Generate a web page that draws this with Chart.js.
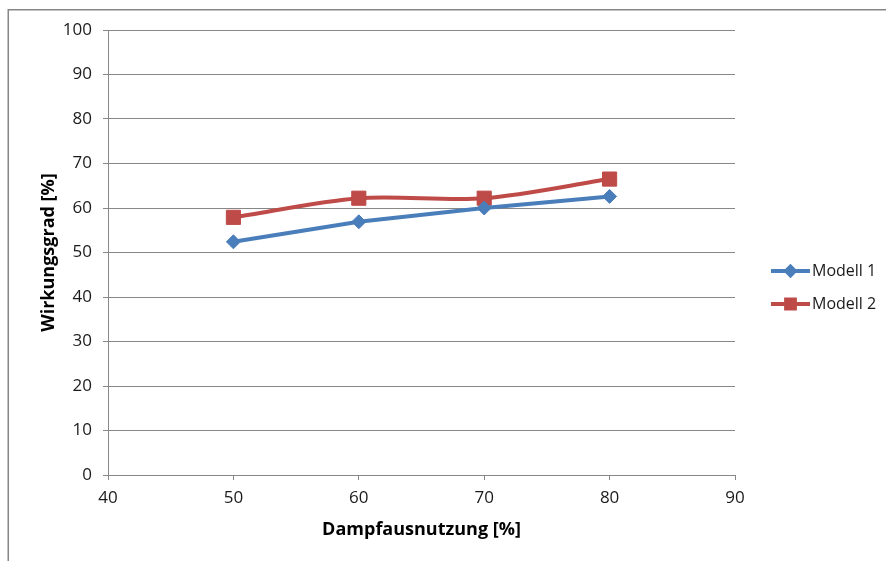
<!DOCTYPE html>
<html>
<head>
<meta charset="utf-8">
<script src="https://cdn.jsdelivr.net/npm/chart.js@4.4.1/dist/chart.umd.min.js"></script>
<style>
  html, body { margin: 0; padding: 0; background: #ffffff; }
  #wrap { position: relative; width: 886px; height: 561px; }
  canvas { display: block; }
</style>
</head>
<body>
<div id="wrap"><canvas id="c" width="886" height="561"></canvas></div>
<script>
// Dampfausnutzung [%] on the x axis
const dampfausnutzung = [50, 60, 70, 80];
// Wirkungsgrad [%] for both models
const modell1 = [52.4, 56.9, 60.0, 62.6];
const modell2 = [57.9, 62.2, 62.2, 66.5];
const seriesNames = ['Modell 1', 'Modell 2'];
const xTicks = [40, 50, 60, 70, 80, 90];
const yTicks = [0, 10, 20, 30, 40, 50, 60, 70, 80, 90, 100];

const FONT = '"Open Sans", "Liberation Sans", sans-serif';
const GRID = '#878787';
const BLUE = '#4a7ebb';
const RED = '#be4b48';

const toPoints = (ys) => ys.map((y, i) => ({ x: dampfausnutzung[i], y }));

// outer chart frame
const framePlugin = {
  id: 'frame',
  beforeDraw(chart) {
    const ctx = chart.ctx;
    ctx.save();
    ctx.strokeStyle = '#868686';
    ctx.lineWidth = 1.5;
    ctx.strokeRect(8.25, 9.75, 2000, 2000);
    ctx.restore();
  }
};

// legend with line sample and marker, to the right of the plot
const sideLegend = {
  id: 'sideLegend',
  afterDraw(chart) {
    const ctx = chart.ctx;
    const area = chart.chartArea;
    const x0 = area.right + 36;
    const lineLen = 39;
    const rows = [area.top + 241, area.top + 274];
    ctx.save();
    chart.data.datasets.forEach((ds, i) => {
      const y = rows[i];
      ctx.strokeStyle = ds.borderColor;
      ctx.lineWidth = 4;
      ctx.lineCap = 'butt';
      ctx.beginPath();
      ctx.moveTo(x0, y);
      ctx.lineTo(x0 + lineLen, y);
      ctx.stroke();
      ctx.fillStyle = ds.backgroundColor;
      ctx.strokeStyle = ds.borderColor;
      Chart.helpers.drawPoint(ctx, {
        pointStyle: ds.pointStyle,
        radius: ds.pointRadius * 0.62,
        borderWidth: 1
      }, x0 + lineLen / 2, y);
      ctx.fillStyle = '#1a1a1a';
      ctx.font = '16px ' + FONT;
      ctx.textBaseline = 'middle';
      ctx.textAlign = 'left';
      ctx.fillText(ds.label, x0 + lineLen + 2, y);
    });
    ctx.restore();
  }
};

new Chart(document.getElementById('c'), {
  type: 'line',
  data: {
    datasets: [
      {
        label: seriesNames[0],
        data: toPoints(modell1),
        borderColor: BLUE,
        backgroundColor: BLUE,
        borderWidth: 4,
        pointStyle: 'rectRot',
        pointRadius: 7,
        pointBorderWidth: 1,
        tension: 0
      },
      {
        label: seriesNames[1],
        data: toPoints(modell2),
        borderColor: RED,
        backgroundColor: RED,
        borderWidth: 4,
        pointStyle: 'rect',
        pointRadius: 10,
        pointBorderWidth: 1,
        tension: 0.3
      }
    ]
  },
  options: {
    responsive: false,
    animation: false,
    events: [],
    layout: { padding: { left: 38, right: 151, top: 30, bottom: 16 } },
    plugins: {
      legend: { display: false },
      tooltip: { enabled: false }
    },
    scales: {
      x: {
        type: 'linear',
        min: 40,
        max: 90,
        afterBuildTicks(scale) { scale.ticks = xTicks.map(v => ({ value: v })); },
        afterFit(scale) { scale.height = 70; },
        border: { display: true, color: GRID, width: 1 },
        grid: { drawOnChartArea: false, drawTicks: true, tickLength: 5, color: GRID },
        ticks: { color: '#1a1a1a', font: { family: FONT, size: 17 }, padding: 8 },
        title: {
          display: true,
          text: 'Dampfausnutzung [%]',
          color: '#000',
          font: { family: FONT, size: 18, weight: 'bold' },
          padding: { top: 4, bottom: 4 }
        }
      },
      y: {
        min: 0,
        max: 100,
        afterBuildTicks(scale) { scale.ticks = yTicks.map(v => ({ value: v })); },
        afterFit(scale) { scale.width = 70; },
        border: { display: true, color: GRID, width: 1 },
        grid: { drawOnChartArea: true, drawTicks: true, tickLength: 5, color: GRID },
        ticks: { color: '#1a1a1a', font: { family: FONT, size: 17 }, padding: 11 },
        title: {
          display: true,
          text: 'Wirkungsgrad [%]',
          color: '#000',
          font: { family: FONT, size: 18, weight: 'bold' },
          padding: { top: 0, bottom: 4 }
        }
      }
    }
  },
  plugins: [framePlugin, sideLegend]
});
</script>
</body>
</html>
